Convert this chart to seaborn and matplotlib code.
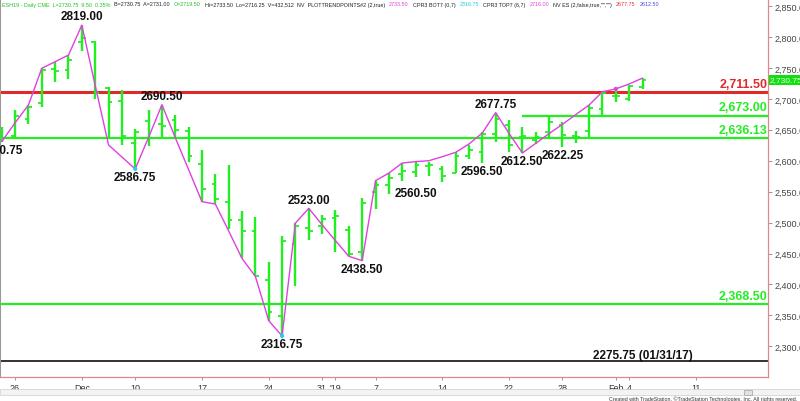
import matplotlib
matplotlib.use("Agg")
import matplotlib.pyplot as plt
import matplotlib.transforms as mtransforms
from matplotlib.patches import Rectangle
import seaborn as sns
import pandas as pd
import numpy as np

# daily bars, ESH19
dates = ['2018-11-23', '2018-11-26', '2018-11-27', '2018-11-28', '2018-11-29', '2018-11-30',
         '2018-12-03', '2018-12-04', '2018-12-06', '2018-12-07',
         '2018-12-10', '2018-12-11', '2018-12-12', '2018-12-13', '2018-12-14',
         '2018-12-17', '2018-12-18', '2018-12-19', '2018-12-20', '2018-12-21',
         '2018-12-24', '2018-12-26', '2018-12-27', '2018-12-28', '2018-12-31',
         '2019-01-02', '2019-01-03', '2019-01-04',
         '2019-01-07', '2019-01-08', '2019-01-09', '2019-01-10', '2019-01-11',
         '2019-01-14', '2019-01-15', '2019-01-16', '2019-01-17', '2019-01-18',
         '2019-01-22', '2019-01-23', '2019-01-24', '2019-01-25',
         '2019-01-28', '2019-01-29', '2019-01-30', '2019-01-31', '2019-02-01',
         '2019-02-04', '2019-02-05']
opens = [2641, 2640, 2667, 2693, 2748, 2747,
         2792, 2792, 2717, 2697,
         2628.5, 2664, 2660, 2665, 2648.5,
         2594.75, 2562.25, 2532.75, 2504.75, 2485.75,
         2407.75, 2349.5, 2466, 2490.75, 2495,
         2508, 2488, 2453,
         2550, 2560, 2578, 2581, 2592,
         2586.5, 2580, 2607, 2614, 2643,
         2657.75, 2639, 2634, 2647,
         2657.75, 2640, 2648.5, 2683.5, 2705,
         2699.75, 2719.5]
highs = [2655, 2682.5, 2690, 2749.25, 2759, 2770.75,
         2819, 2794, 2718.5, 2714,
         2652, 2682.5, 2690.5, 2674, 2654,
         2617, 2578.5, 2593, 2519, 2508.5,
         2435.75, 2478.75, 2499, 2523, 2512,
         2521, 2494, 2539,
         2567.75, 2580, 2596.25, 2598.5, 2598,
         2592, 2613.5, 2625, 2645.75, 2677.75,
         2666.25, 2654, 2647, 2672.75,
         2663, 2648.5, 2690, 2711.5, 2718.5,
         2722, 2733.5]
lows = [2630.75, 2636, 2659, 2686, 2727.75, 2732,
        2777.75, 2699.75, 2635, 2625,
        2586.75, 2624.25, 2636, 2638, 2597.25,
        2533.75, 2530, 2489.5, 2442, 2413,
        2341.5, 2316.75, 2397, 2472.5, 2481.5,
        2452, 2445.5, 2438.5,
        2522, 2546, 2567.75, 2573, 2575.75,
        2566, 2580, 2602.75, 2596.5, 2630.75,
        2614.5, 2612.5, 2627, 2635,
        2622.25, 2628.5, 2636, 2672.75, 2694.25,
        2697, 2716.25]
closes = [2636, 2673, 2687, 2747, 2745.5, 2763,
          2797.75, 2709, 2695.5, 2639.5,
          2645.75, 2637, 2656.5, 2649.5, 2607,
          2555, 2538, 2504.75, 2487, 2414,
          2355, 2470.75, 2494.5, 2486, 2505.75,
          2511, 2449.25, 2531.5,
          2560, 2571.5, 2584, 2593, 2593,
          2575.75, 2607, 2618, 2643, 2667.5,
          2625.5, 2640, 2639, 2663,
          2641.5, 2639, 2684.5, 2709.5, 2705,
          2721, 2730.75]
trend = [2630.75, 2661.25, 2690, 2749.25, 2760, 2770.75,
         2819, 2721.75, 2625.5, 2606,
         2586.75, 2637.75, 2690.5, 2637.25, 2585.5,
         2533.75, 2530, 2486.5, 2442, 2413,
         2341.5, 2316.75, 2499.25, 2523, 2496.5,
         2470.75, 2445.5, 2438.5,
         2567.75, 2580, 2596.25, 2598.5, 2600,
         2606.5, 2613.5, 2627, 2644.75, 2677.75,
         2644.25, 2612.5, 2628, 2643.75,
         2658.75, 2674.5, 2690, 2711.5, 2716,
         2724, 2733.5]

tick_idx = [1, 6, 10, 15, 20, 24, 25, 28, 33, 38, 42, 46, 47, 52]
tick_labels = ['26', 'Dec', '10', '17', '24', '31', "'19", '7', '14', '22', '28', 'Feb', '4', '11']

swing_idx = [0, 6, 10, 12, 21, 23, 27, 31, 36, 37, 39, 42]
swing_price = [2630.75, 2819.00, 2586.75, 2690.50, 2316.75, 2523.00, 2438.50,
               2560.50, 2596.50, 2677.75, 2612.50, 2622.25]
swing_high = [False, True, False, True, False, True, False,
              False, False, True, False, False]

dot_idx = [10, 21, 46]
dot_colors = ['#20d0f0', '#20d0f0', '#e040e0']

level_prices = [2711.50, 2673.00, 2636.13, 2368.50]
level_labels = ['2,711.50', '2,673.00', '2,636.13', '2,368.50']
level_start = [None, 39, None, None]
old_low = 2275.75
old_low_label = '2275.75 (01/31/17)'

GREEN = '#22ee22'
RED = '#e02a2a'
MAGENTA = '#e040e0'
level_colors = [RED, GREEN, GREEN, GREEN]

df = pd.DataFrame({'date': pd.to_datetime(dates), 'open': opens, 'high': highs,
                   'low': lows, 'close': closes, 'trend': trend})
df['i'] = np.arange(len(df))

sns.set_style('white')
plt.rcParams['font.family'] = ['Liberation Sans', 'DejaVu Sans']

fig = plt.figure(figsize=(8, 4.02), dpi=100)
ax = fig.add_axes([0, 24 / 402, 768 / 800, 378 / 402])
ax.set_xlim(-0.13, 57.4)
ax.set_ylim(2250.5, 2861.3)

# horizontal levels
for p, c, s in zip(level_prices, level_colors, level_start):
    x0 = -1 if s is None else s
    ax.hlines(p, x0, 60, color=c, lw=2.2 if c == RED else 1.6, zorder=1)
ax.axhline(old_low, color='#333333', lw=1.4, zorder=1)

# OHLC bars
ax.vlines(df['i'], df['low'], df['high'], color=GREEN, lw=1.7, zorder=3)
ax.hlines(df['open'], df['i'] - 0.28, df['i'], color=GREEN, lw=1.3, zorder=3)
ax.hlines(df['close'], df['i'], df['i'] + 0.28, color=GREEN, lw=1.3, zorder=3)

# swing trend line
sns.lineplot(data=df, x='i', y='trend', color=MAGENTA, lw=1.0, ax=ax, zorder=4)
ax.scatter(dot_idx, df['trend'].iloc[dot_idx], s=9, c=dot_colors, zorder=5, linewidths=0)

# swing labels
for i, p, hi in zip(swing_idx, swing_price, swing_high):
    ax.annotate(f'{p:.2f}', xy=(i, p), xytext=(0, 2 if hi else -1.5),
                textcoords='offset points', ha='center',
                va='bottom' if hi else 'top', fontsize=8.5, fontweight='bold',
                color='#111111', zorder=6)

# level labels on the right
trans = mtransforms.blended_transform_factory(ax.transAxes, ax.transData)
for p, lab, c in zip(level_prices, level_labels, level_colors):
    ax.annotate(lab, xy=(0.999, p), xycoords=trans, xytext=(0, 1.5),
                textcoords='offset points', ha='right', va='bottom',
                fontsize=9, fontweight='bold', color=c, zorder=6)
ax.annotate(old_low_label, xy=(len(df) - 1, old_low), xytext=(0, 0.5),
            textcoords='offset points', ha='center', va='bottom',
            fontsize=8.5, fontweight='bold', color='#111111', zorder=6)

# last price box
ax.annotate(f'{closes[-1]:,.2f}', xy=(1, closes[-1]), xycoords=trans, xytext=(1.5, 0),
            textcoords='offset points', ha='left', va='center', fontsize=6,
            color='#eaffea', annotation_clip=False,
            bbox=dict(boxstyle='square,pad=0.15', fc='#10e010', ec='none'))

# axes styling
ax.yaxis.tick_right()
yt = np.arange(2300, 2851, 50)
ax.set_yticks(yt)
ax.set_yticklabels([f'{v:,.2f}' for v in yt])
ax.set_xticks(tick_idx)
ax.set_xticklabels(tick_labels)
ax.tick_params(axis='y', labelsize=6.5, labelcolor='#444444', color='#888888',
               length=3, width=0.6, pad=2, right=True, left=False)
ax.tick_params(axis='x', labelsize=6.5, labelcolor='#333333', color='#888888',
               length=2, width=0.6, pad=2, bottom=True)
ax.set_xlabel('')
ax.set_ylabel('')
for side in ['right', 'bottom']:
    ax.spines[side].set_color('#e08888')
    ax.spines[side].set_linewidth(0.9)
ax.spines['left'].set_color('#999999')
ax.spines['top'].set_color('#bbbbbb')
ax.spines['top'].set_linewidth(0.6)

# header strip
header = [('ESH19 - Daily CME  L=2730.75  9.50  0.35%', '#20c020'),
          ('B=2730.75  A=2731.00', '#222222'),
          ('O=2719.50', '#20c020'),
          ('Hi=2733.50  Lo=2716.25  V=432,512  NV  PLOTTRENDPOINTS#2 (2,true)', '#222222'),
          ('2733.50', '#e040e0'),
          ('CPR3 BOT7 (0,7)', '#222222'),
          ('2316.75', '#20d0d0'),
          ('CPR3 TOP7 (6,7)', '#222222'),
          ('2716.00', '#e040e0'),
          ('NV ES (2,false,true,"","")', '#222222'),
          ('2677.75', '#e03030'),
          ('2612.50', '#4050e0')]
renderer = fig.canvas.get_renderer()
xpos = 2
for txt, col in header:
    t = fig.text(xpos / 800, 1 - 5 / 402, txt, fontsize=3.9, color=col,
                 ha='left', va='center')
    bb = t.get_window_extent(renderer)
    xpos = bb.x1 + 4

# scrollbar and credit line
fig.patches.append(Rectangle((0, 1 - 396 / 402), 1, 6 / 402, transform=fig.transFigure,
                             fc='#f3f3f3', ec='#cccccc', lw=0.5))
fig.patches.append(Rectangle((744 / 800, 1 - 395.5 / 402), 8 / 800, 5 / 402,
                             transform=fig.transFigure, fc='#e2e2e2', ec='#a0a0a0', lw=0.5))
fig.text(797 / 800, 1 - 398.8 / 402,
         'Created with TradeStation. \u00a9TradeStation Technologies, Inc. All rights reserved.',
         fontsize=3.8, color='#333333', ha='right', va='center')

fig.savefig('out.png', dpi=100)
